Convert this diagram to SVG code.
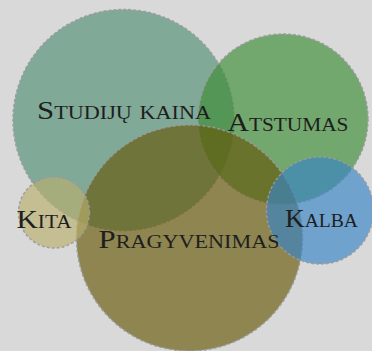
<svg xmlns="http://www.w3.org/2000/svg" width="372" height="351" viewBox="0 0 372 351">
<style>
.c{fill-opacity:0.65;stroke:#9a9a9a;stroke-opacity:0.9;stroke-width:1.5;stroke-dasharray:3 2}
.t{font-family:"Liberation Serif","DejaVu Serif",serif;font-variant:small-caps;font-size:25px;fill:#1e1e1e;text-anchor:middle}
</style>
<rect x="0" y="0" width="372" height="351" fill="#d9d9d9"/>
<g id="connectors"/>
<g id="studiju-kaina"><circle class="c" cx="123.5" cy="120" r="110.5" fill="#528f75"/></g>
<g id="atstumas"><circle class="c" cx="283" cy="119" r="85" fill="#3a8c33"/></g>
<g id="pragyvenimas"><circle class="c" cx="189.5" cy="238" r="113" fill="#665808"/></g>
<g id="kita"><circle class="c" cx="54" cy="212.5" r="35.5" fill="#baaf6d"/></g>
<g id="kalba"><circle class="c" cx="320" cy="210.5" r="53.5" fill="#3784c8"/></g>
<g id="labels">
<text class="t" x="124" y="119" textLength="174" lengthAdjust="spacingAndGlyphs">Studijų kaina</text>
<text class="t" x="288" y="130.5" textLength="121" lengthAdjust="spacingAndGlyphs">Atstumas</text>
<text class="t" x="44" y="228" textLength="55" lengthAdjust="spacingAndGlyphs">Kita</text>
<text class="t" x="321.5" y="227" textLength="73" lengthAdjust="spacingAndGlyphs">Kalba</text>
<text class="t" x="189" y="247.5" textLength="181" lengthAdjust="spacingAndGlyphs">Pragyvenimas</text>
</g>
</svg>
